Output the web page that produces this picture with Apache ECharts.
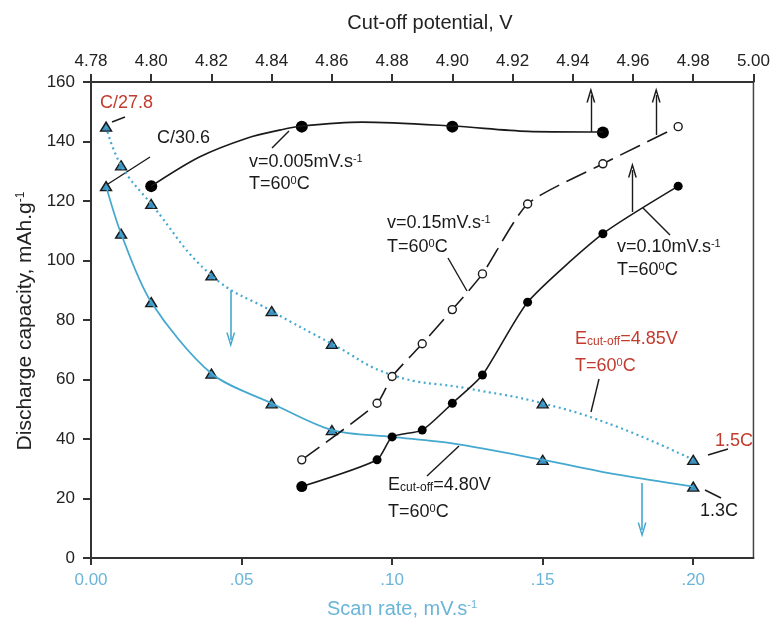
<!DOCTYPE html>
<html>
<head>
<meta charset="utf-8">
<script src="https://cdn.jsdelivr.net/npm/echarts@6/dist/echarts.min.js"></script>
<style>
  html, body { margin: 0; padding: 0; background: #fff; }
  #chart { width: 773px; height: 626px; }
</style>
</head>
<body>
<div id="chart"></div>
<script>
// --- data ---
// bottom axis: scan rate (mV/s) vs discharge capacity
var scanRate = [0.005, 0.01, 0.02, 0.04, 0.06, 0.08, 0.15, 0.20];
var cap480 = [125, 109, 86, 62, 52, 43, 33, 24];          // E cut-off 4.80V, solid
var cap485 = [145, 132, 119, 95, 83, 72, 52, 33];         // E cut-off 4.85V, dotted
// traced curve shapes (fitted lines, no markers)
var trace480X = [0.005, 0.01, 0.02, 0.04, 0.06, 0.08, 0.10, 0.12, 0.15, 0.175, 0.20];
var trace480Y = [125, 109, 86, 62, 52, 43, 40.7, 38.5, 33, 28, 24];
var trace485X = [0.005, 0.01, 0.02, 0.04, 0.06, 0.08, 0.10, 0.125, 0.15, 0.175, 0.20];
var trace485Y = [145, 132, 119, 95, 83, 72, 61.5, 57, 52, 44, 33];

// top axis: cut-off potential (V) vs discharge capacity
var volt005 = [4.80, 4.85, 4.90, 4.95];
var cap005 = [125, 145, 145, 143];
var trace005V = [4.80, 4.816, 4.832, 4.843, 4.85, 4.87, 4.90, 4.925, 4.946, 4.95];
var trace005C = [125, 134.8, 141.2, 143.9, 145.2, 146.5, 145.2, 143.4, 143.2, 143.2];
var volt015 = [4.85, 4.875, 4.88, 4.89, 4.90, 4.91, 4.925, 4.95, 4.975];
var cap015 = [33, 52, 61, 72, 83.5, 95.5, 119, 132.5, 145];
var volt010 = [4.85, 4.875, 4.88, 4.89, 4.90, 4.91, 4.925, 4.95, 4.975];
var cap010 = [24, 33, 40.7, 43, 52, 61.5, 86, 109, 125];

var scanTicks = [0, 0.05, 0.10, 0.15, 0.20];

// arrows: [x, yFrom, yTo]
var arrowsTop = [[4.946, 143.2, 155.6], [4.9677, 142.2, 155.6], [4.9598, 116.3, 130.4]];
var arrowsBottom = [[0.0464, 90, 73.3], [0.183, 25.2, 9.4]];

var FONT = "'Liberation Sans', Arial, Helvetica, sans-serif";
var CYAN = '#45a8cf';
var CYAN_TXT = '#6ab5d8';
var TRI = '#3d92c2';
var RED = '#c23b2e';
var INK = '#1a1a1a';

function zip(a, b) {
    var out = [];
    for (var i = 0; i < a.length; i++) out.push([a[i], b[i]]);
    return out;
}

function arrowData(list) {
    return list.map(function (a) {
        return [{coord: [a[0], a[1]]}, {coord: [a[0], a[2]]}];
    });
}

var chevron = 'path://M0,14 L5,0 L10,14 L8.3,14 L5,4.6 L1.7,14 Z';

function txt(x, y, text, color, size, align) {
    return {
        type: 'text', x: x, y: y, silent: true,
        style: {
            text: text, fill: color, fontSize: size || 17, fontFamily: FONT,
            align: align || 'left', verticalAlign: 'middle',
            rich: {
                s: {fontSize: 11, lineHeight: 9, fontFamily: FONT, verticalAlign: 'top'},
                b: {fontSize: 12, lineHeight: 6, fontFamily: FONT, verticalAlign: 'bottom'}
            }
        }
    };
}

function seg(x1, y1, x2, y2) {
    return {
        type: 'line', silent: true,
        shape: {x1: x1, y1: y1, x2: x2, y2: y2},
        style: {stroke: INK, lineWidth: 1.4}
    };
}

var chart = echarts.init(document.getElementById('chart'), null, {renderer: 'canvas'});

var option = {
    animation: false,
    backgroundColor: '#fff',
    grid: {
        left: 91, right: 18, top: 82, bottom: 68,
        show: true, borderColor: '#444', borderWidth: 1.5, backgroundColor: 'transparent'
    },
    xAxis: [
        {
            type: 'value', position: 'bottom', min: 0, max: 0.22,
            axisLine: {lineStyle: {color: '#333', width: 2}},
            axisTick: {show: true, inside: false, length: 7, customValues: scanTicks, lineStyle: {color: '#333', width: 2}},
            axisLabel: {
                customValues: scanTicks, margin: 14, fontSize: 17, fontFamily: FONT, color: CYAN_TXT,
                formatter: function (v) {
                    if (v === 0) return '0.00';
                    return v.toFixed(2).replace(/^0/, '');
                }
            },
            splitLine: {show: false}
        },
        {
            type: 'value', position: 'top', min: 4.78, max: 5.00, interval: 0.02,
            axisLine: {lineStyle: {color: '#333', width: 2}},
            axisTick: {show: true, inside: false, length: 8, lineStyle: {color: '#333', width: 2}},
            axisLabel: {
                margin: 12, fontSize: 17, fontFamily: FONT, color: '#222',
                formatter: function (v) { return v.toFixed(2); }
            },
            splitLine: {show: false}
        }
    ],
    yAxis: {
        type: 'value', min: 0, max: 160, interval: 20,
        axisLine: {show: true, lineStyle: {color: '#333', width: 2}},
        axisTick: {show: true, inside: false, length: 8, lineStyle: {color: '#333', width: 2}},
        axisLabel: {margin: 16, fontSize: 17, fontFamily: FONT, color: '#222'},
        splitLine: {show: false}
    },
    series: [
        // cyan curves (scan-rate axis)
        {
            type: 'line', xAxisIndex: 0, data: zip(trace480X, trace480Y),
            smooth: 0.3, showSymbol: false, silent: true,
            lineStyle: {color: CYAN, width: 1.8}
        },
        {
            type: 'line', xAxisIndex: 0, data: zip(trace485X, trace485Y),
            smooth: 0.45, showSymbol: false, silent: true,
            lineStyle: {color: CYAN, width: 2.2, type: [2, 3.5]}
        },
        {
            type: 'scatter', xAxisIndex: 0, data: zip(scanRate, cap480), silent: true,
            symbol: 'triangle', symbolSize: [11, 9],
            itemStyle: {color: TRI, borderColor: INK, borderWidth: 1.4, opacity: 1}
        },
        {
            type: 'scatter', xAxisIndex: 0, data: zip(scanRate, cap485), silent: true,
            symbol: 'triangle', symbolSize: [11, 9],
            itemStyle: {color: TRI, borderColor: INK, borderWidth: 1.4, opacity: 1}
        },
        // cyan arrows
        {
            type: 'line', xAxisIndex: 0, data: [], silent: true,
            markLine: {
                silent: true, symbol: ['none', chevron], symbolSize: [9, 15],
                label: {show: false},
                lineStyle: {color: CYAN, width: 1.6, type: 'solid'},
                data: arrowData(arrowsBottom)
            }
        },
        // black curves (cut-off potential axis)
        {
            type: 'line', xAxisIndex: 1, data: zip(trace005V, trace005C),
            smooth: 0.3, showSymbol: false, silent: true,
            lineStyle: {color: INK, width: 1.6}
        },
        {
            type: 'scatter', xAxisIndex: 1, data: zip(volt005, cap005), silent: true,
            symbol: 'circle', symbolSize: 12,
            itemStyle: {color: '#000', opacity: 1}
        },
        {
            type: 'line', xAxisIndex: 1, data: zip(volt015, cap015),
            smooth: 0.2, silent: true,
            symbol: 'circle', symbolSize: 8,
            itemStyle: {color: '#fff', borderColor: INK, borderWidth: 1.4},
            lineStyle: {color: INK, width: 1.6, type: [22, 8]}
        },
        {
            type: 'line', xAxisIndex: 1, silent: true,
            data: zip(volt010, cap010).map(function (p, i) {
                return i === 0 ? {value: p, symbolSize: 11} : p;
            }),
            smooth: 0.2, symbol: 'circle', symbolSize: 9,
            itemStyle: {color: '#000'},
            lineStyle: {color: INK, width: 1.6}
        },
        // black arrows
        {
            type: 'line', xAxisIndex: 1, data: [], silent: true,
            markLine: {
                silent: true, symbol: ['none', chevron], symbolSize: [9, 15],
                label: {show: false},
                lineStyle: {color: INK, width: 1.4, type: 'solid'},
                data: arrowData(arrowsTop)
            }
        }
    ],
    graphic: [
        // axis titles
        txt(430, 23, 'Cut-off potential, V', '#222', 20, 'center'),
        txt(402, 609, 'Scan rate, mV.s{s|-1}', CYAN_TXT, 20, 'center'),
        {
            type: 'text', x: 25, y: 321, rotation: Math.PI / 2, silent: true,
            style: {
                text: 'Discharge capacity, mAh.g{s|-1}', fill: '#222', fontSize: 21, fontFamily: FONT,
                align: 'center', verticalAlign: 'middle',
                rich: {s: {fontSize: 12, lineHeight: 10, fontFamily: FONT, verticalAlign: 'top'}}
            }
        },
        // annotations
        txt(100, 103, 'C/27.8', RED, 18),
        seg(112, 122, 125, 117),
        txt(157, 138, 'C/30.6', INK, 18),
        seg(108, 184, 150, 157),
        txt(249, 162, 'v=0.005mV.s{s|-1}', INK, 18),
        txt(249, 184, 'T=60{s|0}C', INK, 18),
        seg(272, 148, 289, 131),
        txt(387, 223, 'v=0.15mV.s{s|-1}', INK, 18),
        txt(387, 247, 'T=60{s|0}C', INK, 18),
        seg(448, 258, 467, 291),
        txt(617, 247, 'v=0.10mV.s{s|-1}', INK, 18),
        txt(617, 270, 'T=60{s|0}C', INK, 18),
        seg(670, 235, 643, 208),
        txt(575, 339, 'E{b|cut-off}=4.85V', RED, 18),
        txt(575, 366, 'T=60{s|0}C', RED, 18),
        seg(599, 379, 591, 412),
        txt(388, 485, 'E{b|cut-off}=4.80V', INK, 18),
        txt(388, 512, 'T=60{s|0}C', INK, 18),
        seg(427, 476, 459, 446),
        txt(715, 441, '1.5C', RED, 18),
        seg(708, 455, 728, 449),
        txt(700, 511, '1.3C', INK, 18),
        seg(705, 490, 721, 498)
    ]
};

chart.setOption(option);
</script>
</body>
</html>
